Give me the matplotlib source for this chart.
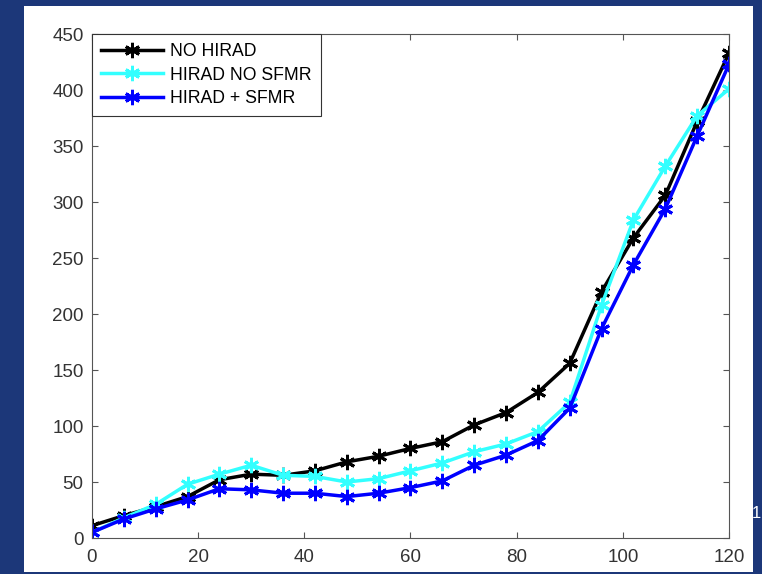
import numpy as np
import matplotlib.pyplot as plt
from matplotlib.patches import Rectangle

plt.rcParams["font.family"] = ["Liberation Sans", "DejaVu Sans"]

# data
x_vals = [0, 6, 12, 18, 24, 30, 36, 42, 48, 54, 60, 66, 72, 78, 84, 90, 96, 102, 108, 114, 120]
no_hirad = [11, 20, 28, 37, 52, 57, 56, 60, 68, 73, 80, 86, 101, 112, 130, 156, 220, 268, 306, 372, 433]
hirad_no_sfmr = [5, 18, 30, 48, 57, 65, 56, 55, 50, 53, 60, 67, 77, 84, 95, 121, 208, 284, 332, 377, 401]
hirad_sfmr = [5, 17, 26, 34, 44, 43, 40, 40, 37, 40, 45, 51, 65, 74, 87, 116, 187, 244, 294, 359, 423]
labels = ["NO HIRAD", "HIRAD NO SFMR", "HIRAD + SFMR"]
x_ticks = [0, 20, 40, 60, 80, 100, 120]
y_ticks = [0, 50, 100, 150, 200, 250, 300, 350, 400, 450]

fig = plt.figure(figsize=(7.62, 5.74), dpi=100)
fig.patch.set_facecolor("#1c3779")

# white slide panel behind the axes
panel = Rectangle((0.0315, 0.0035), 0.9565, 0.986, transform=fig.transFigure,
                  facecolor="white", edgecolor="none", zorder=-1)
fig.add_artist(panel)

ax = fig.add_axes([0.1207, 0.0627, 0.836, 0.878])
ax.set_zorder(1)
ax.set_facecolor("white")

asterisk = (6, 2, 0)
series = [no_hirad, hirad_no_sfmr, hirad_sfmr]
colors = ["black", "#33ffff", "#0000ff"]
for vals, col, lab in zip(series, colors, labels):
    ax.plot(x_vals, vals, color=col, lw=2.5, marker=asterisk, ms=11,
            mew=2.1, mec=col, label=lab)

ax.set_xlim(0, 120)
ax.set_ylim(0, 450)
ax.set_xticks(x_ticks)
ax.set_yticks(y_ticks)
ax.tick_params(direction="in", top=True, right=True, length=4,
               width=0.8, colors="#555555", labelcolor="#333333", labelsize=13.5)
ax.tick_params(axis="x", pad=8)
ax.tick_params(axis="y", pad=6)
for sp in ax.spines.values():
    sp.set_color("#555555")
    sp.set_linewidth(0.8)

leg = ax.legend(loc="upper left", borderaxespad=0, fontsize=12.7,
                handlelength=3.5, labelspacing=0.38, fancybox=False,
                framealpha=1, edgecolor="#333333", borderpad=0.5,
                handletextpad=0.45)
leg.get_frame().set_linewidth(0.8)

# slide number peeking in at the right edge
fig.text(0.999, 0.105, "1", color="white", fontsize=12, ha="right", va="center")

fig.savefig("out.png", dpi=100, facecolor=fig.get_facecolor())
